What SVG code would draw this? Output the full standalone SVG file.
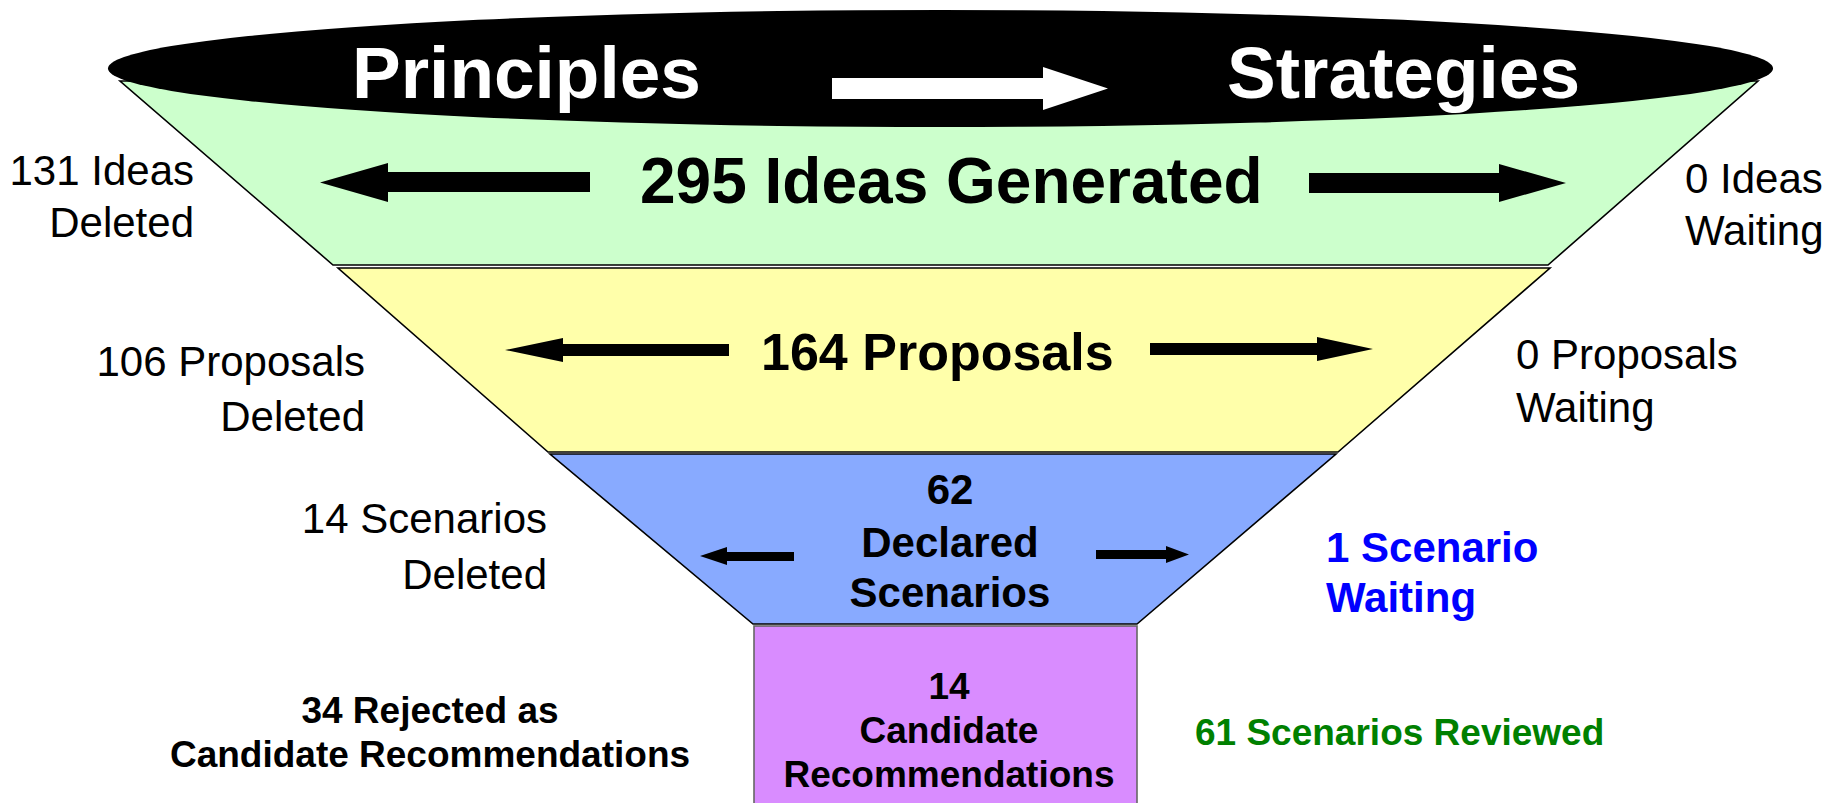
<svg xmlns="http://www.w3.org/2000/svg" width="1830" height="803" viewBox="0 0 1830 803">
<style>
.band{stroke:#000;stroke-width:1.6;stroke-linejoin:miter}
.t{font-family:"Liberation Sans",Arial,sans-serif;fill:#000}
.b{font-weight:bold}
.r{font-size:42px}
.big{font-size:42px;font-weight:bold}
.sm{font-size:37px;font-weight:bold}
.arr{fill:#000;stroke:none}
</style>
<rect width="1830" height="803" fill="#fff"/>
<g id="ideas-band">
<polygon class="band" fill="#CCFFCC" points="120,81 1758,81 1548,265 333,265"/>
</g>
<g id="top-ellipse">
<ellipse cx="940.5" cy="68.5" rx="832.5" ry="58.5" fill="#000"/>
<text class="t b" x="352" y="98" font-size="73" fill="#fff" style="fill:#fff">Principles</text>
<text class="t b" x="1227" y="98" font-size="73" style="fill:#fff">Strategies</text>
</g>
<g id="ideas-label">
<text class="t b" x="640" y="203" font-size="64">295 Ideas Generated</text>
</g>
<g id="proposals-band">
<polygon class="band" fill="#FFFFAA" points="338,268 1550,268 1338,452 548,452"/>
<text class="t b" x="761" y="370" font-size="52">164 Proposals</text>
</g>
<g id="scenarios-band">
<polygon class="band" fill="#88AAFF" points="550,454 1336,454 1137,624 753,624"/>
<text class="t big" text-anchor="middle" x="950" y="504">62</text>
<text class="t big" text-anchor="middle" x="950" y="557">Declared</text>
<text class="t big" text-anchor="middle" x="950" y="607">Scenarios</text>
</g>
<g id="candidates-box">
<rect x="754" y="626" width="383" height="190" fill="#D98CFF" stroke="#666" stroke-width="1.6"/>
<text class="t sm" text-anchor="middle" x="949" y="699">14</text>
<text class="t sm" text-anchor="middle" x="949" y="743">Candidate</text>
<text class="t sm" text-anchor="middle" x="949" y="787">Recommendations</text>
</g>
<g id="connectors">
<polygon class="arr" style="fill:#fff" points="832,78 1043,78 1043,67 1108,88.5 1043,110 1043,99 832,99"/>
<polygon class="arr" points="590,172 388,172 388,163 320,182.5 388,202 388,192 590,192"/>
<polygon class="arr" points="1309,173 1499,173 1499,164 1566,183 1499,202 1499,193 1309,193"/>
<polygon class="arr" points="729,344 563,344 563,338 505,350 563,362 563,356 729,356"/>
<polygon class="arr" points="1150,343 1317,343 1317,337 1373,349 1317,361 1317,355 1150,355"/>
<polygon class="arr" points="794,552 727,552 727,547 700,556 727,565 727,561 794,561"/>
<polygon class="arr" points="1096,550 1166,550 1166,546 1189,554.5 1166,563 1166,559 1096,559"/>
</g>
<g id="ideas-deleted">
<text class="t r" text-anchor="end" x="194" y="185">131 Ideas</text>
<text class="t r" text-anchor="end" x="194" y="237">Deleted</text>
</g>
<g id="ideas-waiting">
<text class="t r" x="1685" y="193">0 Ideas</text>
<text class="t r" x="1685" y="245">Waiting</text>
</g>
<g id="proposals-deleted">
<text class="t r" text-anchor="end" x="365" y="376">106 Proposals</text>
<text class="t r" text-anchor="end" x="365" y="431">Deleted</text>
</g>
<g id="proposals-waiting">
<text class="t r" x="1516" y="369">0 Proposals</text>
<text class="t r" x="1516" y="422">Waiting</text>
</g>
<g id="scenarios-deleted">
<text class="t r" text-anchor="end" x="547" y="533">14 Scenarios</text>
<text class="t r" text-anchor="end" x="547" y="589">Deleted</text>
</g>
<g id="scenario-waiting">
<text class="t big" x="1326" y="562" style="fill:#0000FF">1 Scenario</text>
<text class="t big" x="1326" y="612" style="fill:#0000FF">Waiting</text>
</g>
<g id="rejected">
<text class="t sm" text-anchor="middle" x="430" y="723">34 Rejected as</text>
<text class="t sm" text-anchor="middle" x="430" y="767">Candidate Recommendations</text>
</g>
<g id="reviewed">
<text class="t sm" x="1195" y="745" style="fill:#008000">61 Scenarios Reviewed</text>
</g>
</svg>
